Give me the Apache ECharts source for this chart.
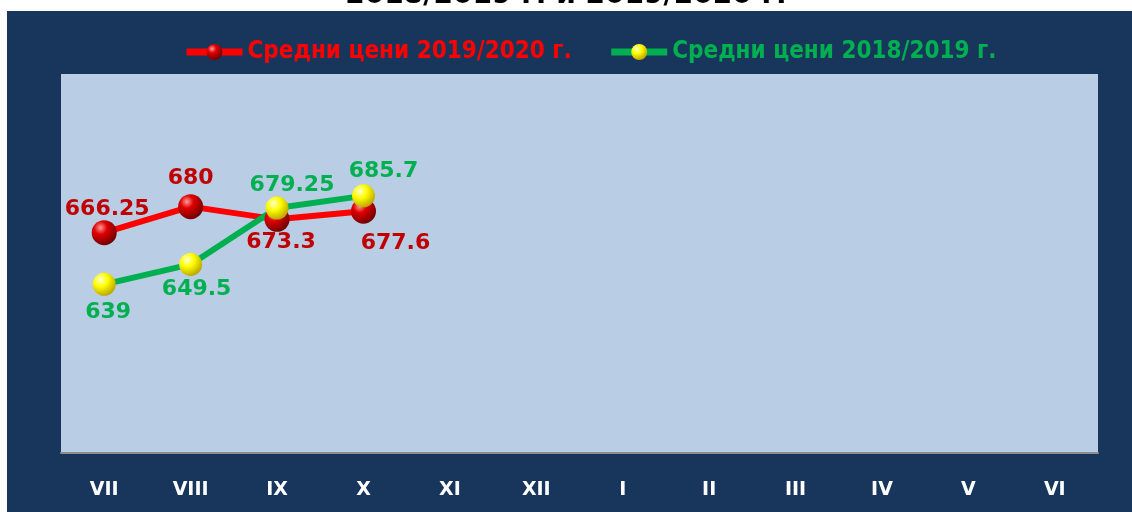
<!DOCTYPE html>
<html>
<head>
<meta charset="utf-8">
<script src="https://cdn.jsdelivr.net/npm/echarts@6/dist/echarts.min.js"></script>
<style>
  html, body { margin: 0; padding: 0; background: #fff; }
  #chart { width: 1132px; height: 512px; }
</style>
</head>
<body>
<div id="chart"></div>
<script>
// месеци (пазарна година VII - VI)
var months = ['VII', 'VIII', 'IX', 'X', 'XI', 'XII', 'I', 'II', 'III', 'IV', 'V', 'VI'];
var prices2019 = [666.25, 680, 673.3, 677.6, null, null, null, null, null, null, null, null];
var prices2018 = [639, 649.5, 679.25, 685.7, null, null, null, null, null, null, null, null];
var name2019 = 'Средни цени 2019/2020 г.';
var name2018 = 'Средни цени 2018/2019 г.';

var redBall = {
    type: 'radial', x: 0.35, y: 0.3, r: 0.75,
    colorStops: [
        {offset: 0, color: '#ff9a9a'},
        {offset: 0.35, color: '#e00000'},
        {offset: 1, color: '#6a0000'}
    ]
};
var yellowBall = {
    type: 'radial', x: 0.35, y: 0.3, r: 0.75,
    colorStops: [
        {offset: 0, color: '#ffffd0'},
        {offset: 0.4, color: '#ffff00'},
        {offset: 1, color: '#b8a000'}
    ]
};

// позиции на етикетите
var redLabels = [
    {position: 'top', offset: [3, 5]},
    {position: 'top', offset: [0, 0]},
    {position: 'bottom', offset: [4, -6]},
    {position: 'bottom', offset: [32, 4]}
];
var greenLabels = [
    {position: 'bottom', offset: [4, 0]},
    {position: 'bottom', offset: [6, -3]},
    {position: 'top', offset: [15, 5]},
    {position: 'top', offset: [20, 3]}
];

function buildData(vals, labels) {
    return vals.map(function (v, i) {
        if (v === null) return null;
        return {value: v, label: labels[i]};
    });
}

var myChart = echarts.init(document.getElementById('chart'));
var option = {
    animation: false,
    backgroundColor: '#ffffff',
    graphic: [
        {
            type: 'text', left: 'center', top: -18, z: -10,
            style: {
                text: '2018/2019 г. и 2019/2020 г.',
                fill: '#000',
                font: 'bold 28px "DejaVu Sans"'
            }
        },
        {
            type: 'rect', z: -5,
            shape: {x: 7, y: 11, width: 1125, height: 501},
            style: {fill: '#18365C'}
        }
    ],
    legend: {
        top: 35,
        left: 178,
        itemWidth: 56,
        itemHeight: 20,
        itemGap: 36,
        lineStyle: {width: 7},
        textStyle: {
            fontFamily: 'DejaVu Sans Condensed',
            fontWeight: 'bold',
            fontSize: 24,
            color: 'inherit'
        },
        data: [
            {name: name2019, textStyle: {color: '#FF0000'}},
            {name: name2018, textStyle: {color: '#00B050'}}
        ]
    },
    grid: {
        left: 61,
        right: 34,
        top: 74,
        bottom: 59,
        show: true,
        backgroundColor: '#B9CDE5',
        borderWidth: 0
    },
    xAxis: {
        type: 'category',
        boundaryGap: true,
        data: months,
        axisLine: {show: true, lineStyle: {color: '#8c8c8c', width: 2}},
        axisTick: {show: false},
        axisLabel: {
            color: '#ffffff',
            fontFamily: 'DejaVu Sans',
            fontWeight: 'bold',
            fontSize: 19,
            margin: 28
        },
        splitLine: {show: false}
    },
    yAxis: {
        type: 'value',
        min: 550,
        max: 750,
        show: false
    },
    series: [
        {
            name: name2019,
            type: 'line',
            data: buildData(prices2019, redLabels),
            lineStyle: {color: '#FF0000', width: 6},
            itemStyle: {color: redBall, borderWidth: 0},
            symbol: 'circle',
            symbolSize: 25,
            label: {
                show: true,
                color: '#C00000',
                fontFamily: 'DejaVu Sans',
                fontWeight: 'bold',
                fontSize: 22
            }
        },
        {
            name: name2018,
            type: 'line',
            data: buildData(prices2018, greenLabels),
            lineStyle: {color: '#00B050', width: 6},
            itemStyle: {color: yellowBall, borderWidth: 0},
            symbol: 'circle',
            symbolSize: 23,
            label: {
                show: true,
                color: '#00B050',
                fontFamily: 'DejaVu Sans',
                fontWeight: 'bold',
                fontSize: 22
            }
        }
    ]
};
myChart.setOption(option);
</script>
</body>
</html>
